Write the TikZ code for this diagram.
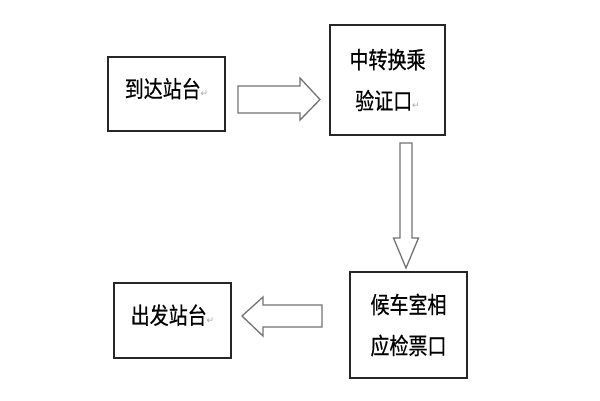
\documentclass[tikz,border=0pt]{standalone}
\usepackage{fontspec}
\usepackage{graphicx}
\setmainfont{Noto Sans CJK SC}[FakeBold=0.6]
\newfontfamily\symfont{DejaVu Sans}
\newcommand{\tall}[1]{\scalebox{1}[1.22]{#1}}
\begin{document}
\begin{tikzpicture}[x=1pt,y=-1pt]
\tikzset{
  box/.style={draw=black!85, line width=1.6pt, fill=white, minimum width=117pt, align=center, inner sep=0pt, font=\fontsize{19}{41}\selectfont},
  onebox/.style={box, text height=20pt, text depth=13pt},
  blockarrow/.style={draw=black!55, line width=1.3pt, fill=white, line join=miter},
}
\newcommand{\ret}{{\symfont\fontsize{9}{9}\selectfont\color{black!35}\raisebox{1pt}{↵}}}
\useasboundingbox[fill=white] (0,0) rectangle (600,400);
\node[onebox, minimum height=74pt] (arr) at (166.5,94) {\tall{到达站台}\ret};
\node[box, minimum width=115pt, minimum height=110pt] (trans) at (387.5,80) {\tall{中转换乘}\\\tall{验证口}\ret};
\node[box, minimum height=106pt] (wait) at (408.5,325) {\tall{候车室相}\\\tall{应检票口}};
\node[onebox, minimum height=75pt] (dep) at (172.5,320.5) {\tall{出发站台}\ret};
% right arrow: arr -> trans
\draw[blockarrow] (238,86) -- (300,86) -- (300,78) -- (320,99.5) -- (300,120) -- (300,113) -- (238,113) -- cycle;
% down arrow: trans -> wait
\draw[blockarrow] (400,143) -- (412,143) -- (412,238) -- (418.5,238) -- (406,268) -- (393.5,238) -- (400,238) -- cycle;
% left arrow: wait -> dep
\draw[blockarrow] (322,305) -- (263,305) -- (263,297) -- (242,316) -- (263,336) -- (263,327) -- (322,327) -- cycle;
\end{tikzpicture}
\end{document}
